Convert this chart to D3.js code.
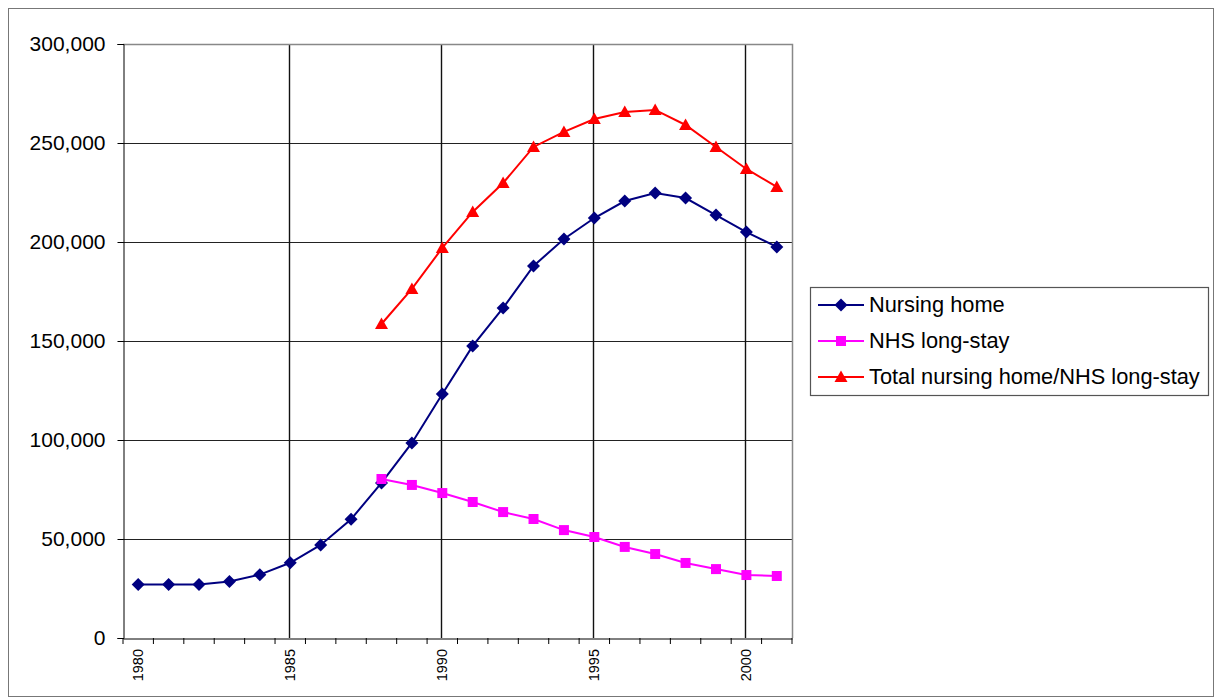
<!DOCTYPE html>
<html><head><meta charset="utf-8">
<script src="https://cdn.jsdelivr.net/npm/d3@7"></script>
<style>body{margin:0;background:#fff}svg{display:block;font-family:"Liberation Sans",Arial,sans-serif}</style>
</head><body><svg id="c" width="1221" height="700"></svg>
<script>
const years = d3.range(1980, 2002);
const nursingHome = [27000,27000,27000,28500,32000,38000,47000,60000,78300,98500,123200,147500,166700,187900,201500,212100,220700,224700,222200,213600,205000,197500];
const nhsYears = d3.range(1988, 2002);
const nhsLongStay = [80300,77300,73200,68700,63600,60100,54500,51000,46000,42400,37900,34800,31800,31300];
const totalYears = d3.range(1988, 2002);
const totalValues = [158600,176300,197000,215200,229800,248000,255600,262100,265700,266700,259100,248000,236900,227800];
const yTicks = [0,50000,100000,150000,200000,250000,300000];
const xLabelYears = [1980,1985,1990,1995,2000];
const seriesNames = ["Nursing home","NHS long-stay","Total nursing home/NHS long-stay"];
const colors = ["#000080","#ff00ff","#ff0000"];

const svg = d3.select("#c");
svg.append("rect").attr("x",8.5).attr("y",8.5).attr("width",1205).attr("height",688).attr("fill","#fff").attr("stroke","#777");

const L=123, R=792, T=44, B=638;
const x = d3.scaleBand().domain(years).range([L,R]);
const cx = d => x(d)+x.bandwidth()/2;
const y = d3.scaleLinear().domain([0,300000]).range([B,T]);

// marker shapes
const diamond = "M0,-6.5L6.5,0L0,6.5L-6.5,0Z";
const square = "M-5,-5H5V5H-5Z";
const triangle = "M0,-6.5L6.5,5H-6.5Z";
const shapes = [diamond, square, triangle];

// horizontal gridlines
svg.append("g").selectAll("line").data(yTicks.filter(v=>v>0&&v<300000)).join("line")
  .attr("x1",L).attr("x2",R).attr("y1",d=>y(d)+0.5).attr("y2",d=>y(d)+0.5).attr("stroke","#222").attr("stroke-width",1);
// vertical gridlines
svg.append("g").selectAll("line").data(xLabelYears.slice(1)).join("line")
  .attr("x1",d=>Math.round(cx(d))-0.5).attr("x2",d=>Math.round(cx(d))-0.5).attr("y1",T).attr("y2",B).attr("stroke","#111").attr("stroke-width",1.4);
// plot border top/right
svg.append("path").attr("d",`M${L},${T+0.5}H${R+0.5}V${B}`).attr("fill","none").attr("stroke","#888").attr("stroke-width",1.5);

// y axis
const ya = d3.axisLeft(y).tickValues(yTicks).tickSize(6).tickPadding(12).tickFormat(d3.format(","));
const gy = svg.append("g").attr("transform",`translate(${L+0.5},0)`).call(ya);
gy.select(".domain").attr("stroke","#000");
gy.selectAll(".tick line").attr("stroke","#000");
gy.selectAll("text").attr("font-size",21).attr("fill","#000").attr("font-family","Liberation Sans, Arial, sans-serif");

// x axis
const xa = d3.axisBottom(x).tickSize(0).tickFormat("");
const gx = svg.append("g").attr("transform",`translate(0,${B+0.5})`).call(xa);
gx.select(".domain").attr("stroke","#000");
svg.append("g").selectAll("line").data(years.concat([2002])).join("line")
  .attr("x1",d=>d===2002?R:x(d)).attr("x2",d=>d===2002?R:x(d)).attr("y1",B).attr("y2",B+6).attr("stroke","#000");
svg.append("g").selectAll("text").data(xLabelYears).join("text")
  .attr("transform",d=>`translate(${cx(d)+5},${B+11}) rotate(-90)`)
  .attr("text-anchor","end").attr("font-size",14.5).attr("fill","#000").text(d=>d);

const line = d3.line().x(d=>cx(d[0])).y(d=>y(d[1]));
const series = [
  years.map((yr,i)=>[yr,nursingHome[i]]),
  nhsYears.map((yr,i)=>[yr,nhsLongStay[i]]),
  totalYears.map((yr,i)=>[yr,totalValues[i]])
];
series.forEach((s,i)=>{
  svg.append("path").attr("d",line(s)).attr("fill","none").attr("stroke",colors[i]).attr("stroke-width",2);
  svg.append("g").selectAll("path").data(s).join("path")
    .attr("transform",d=>`translate(${cx(d[0])},${y(d[1])})`)
    .attr("d",shapes[i]).attr("fill",colors[i]);
});

// legend
const lg = svg.append("g");
lg.append("rect").attr("x",810.5).attr("y",287.5).attr("width",398).attr("height",108).attr("fill","#fff").attr("stroke","#555").attr("stroke-width",1.2);
seriesNames.forEach((n,i)=>{
  const yy = 305 + i*36;
  lg.append("line").attr("x1",818).attr("x2",864).attr("y1",yy).attr("y2",yy).attr("stroke",colors[i]).attr("stroke-width",2);
  lg.append("path").attr("transform",`translate(841,${yy})`).attr("d",shapes[i]).attr("fill",colors[i]);
  lg.append("text").attr("x",869).attr("y",yy+7).attr("font-size",21.8).attr("fill","#000").text(n);
});
</script></body></html>
